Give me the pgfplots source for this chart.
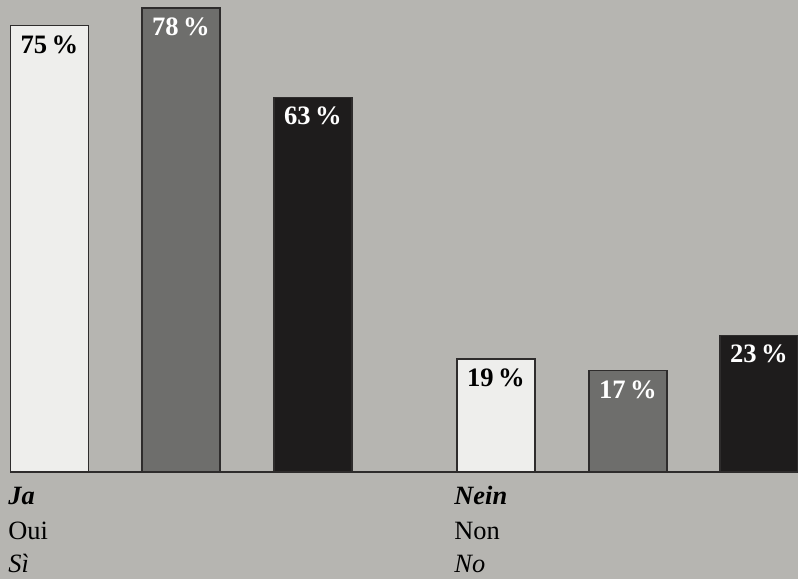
\documentclass[border=0pt]{standalone}
\usepackage{pgfplots}
\pgfplotsset{compat=1.18}
\usepackage{fontspec}
\setmainfont{Liberation Serif}
\definecolor{bg}{HTML}{B6B5B1}
\definecolor{wbar}{HTML}{EEEEEC}
\definecolor{gbar}{HTML}{6E6E6C}
\definecolor{kbar}{HTML}{1E1C1C}
\definecolor{edge}{HTML}{2E2C2C}
\begin{document}
\begin{tikzpicture}
\useasboundingbox (0,0) rectangle (399pt,289.5pt);
\clip (0,0) rectangle (399pt,289.5pt);
\fill[bg] (0,0) rectangle (399pt,289.5pt);
\begin{axis}[
  at={(0,0)}, anchor=south west,
  scale only axis, width=399pt, height=289.5pt,
  xmin=0, xmax=798, ymin=-17.98, ymax=79.33,
  axis line style={draw=none}, ticks=none,
  clip=false,
  ybar, bar width=78, bar shift=0pt,
  nodes near coords={\pgfmathprintnumber[assume math mode=true]{\pgfplotspointmeta}\,\%},
  every node near coord/.append style={anchor=north, inner sep=0pt, yshift=-4.5pt, font=\fontsize{13.3}{15}\selectfont\bfseries},
]
\addplot[fill=wbar, draw=edge, line width=0.6pt, nodes near coords style={text=black}] coordinates {(49.5,75) (496,19)};
\addplot[fill=gbar, draw=edge, line width=0.6pt, nodes near coords style={text=white}] coordinates {(181,78) (628,17)};
\addplot[fill=kbar, draw=edge, line width=0.6pt, nodes near coords style={text=white}] coordinates {(313,63) (759,23)};
\addplot[sharp plot, no marks, draw=edge, line width=0.6pt, nodes near coords={}] coordinates {(10,0) (798,0)};
\node[anchor=base west, inner sep=0pt, font=\fontsize{13.2}{15}\selectfont] at (axis cs:8,-5.38) {\bfseries\itshape Ja};
\node[anchor=base west, inner sep=0pt, font=\fontsize{13.2}{15}\selectfont] at (axis cs:8,-11.26) {Oui};
\node[anchor=base west, inner sep=0pt, font=\fontsize{13.2}{15}\selectfont] at (axis cs:8,-16.85) {\itshape Sì};
\node[anchor=base west, inner sep=0pt, font=\fontsize{13.2}{15}\selectfont] at (axis cs:454,-5.38) {\bfseries\itshape Nein};
\node[anchor=base west, inner sep=0pt, font=\fontsize{13.2}{15}\selectfont] at (axis cs:454,-11.26) {Non};
\node[anchor=base west, inner sep=0pt, font=\fontsize{13.2}{15}\selectfont] at (axis cs:454,-16.85) {\itshape No};
\end{axis}
\end{tikzpicture}
\end{document}
